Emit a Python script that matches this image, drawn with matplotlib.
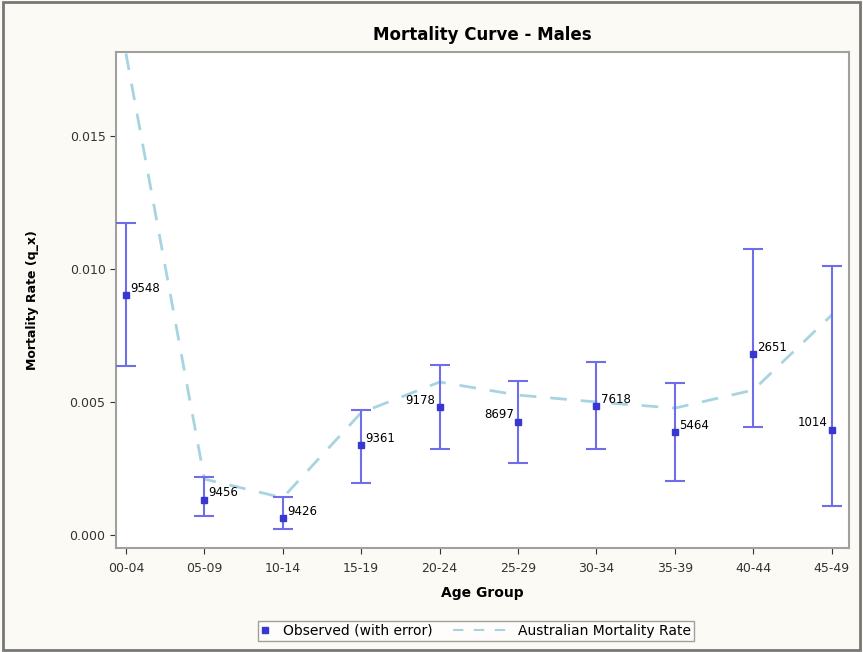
import matplotlib
matplotlib.use('Agg')
import matplotlib.pyplot as plt
from matplotlib.lines import Line2D
from matplotlib.legend_handler import HandlerBase

plt.rcParams['font.family'] = ['DejaVu Sans']

# Observed mortality by age group (with error range)
age_groups = ['00-04', '05-09', '10-14', '15-19', '20-24', '25-29', '30-34', '35-39', '40-44', '45-49']
observed = [0.00902, 0.00132, 0.00064, 0.00338, 0.00481, 0.00425, 0.00485, 0.00387, 0.00680, 0.00395]
upper = [0.01173, 0.00218, 0.00143, 0.00470, 0.00639, 0.00579, 0.00650, 0.00571, 0.01075, 0.01011]
lower = [0.00635, 0.00071, 0.00023, 0.00195, 0.00323, 0.00271, 0.00323, 0.00203, 0.00406, 0.00109]
counts = ['9548', '9456', '9426', '9361', '9178', '8697', '7618', '5464', '2651', '1014']
label_side = ['r', 'r', 'r', 'r', 'l', 'l', 'r', 'r', 'r', 'l']
# Australian reference rate
aus_rate = [0.0181, 0.0021, 0.0014, 0.0046, 0.00575, 0.00526, 0.0050, 0.00477, 0.00545, 0.00827]


class LeftMarker(HandlerBase):
    def create_artists(self, legend, orig_handle, xdescent, ydescent, width, height, fontsize, trans):
        m = Line2D([-xdescent + 3], [height / 2 - ydescent], marker='s', ms=4, ls='none',
                   color=orig_handle.get_color(), transform=trans)
        return [m]


class LongDash(HandlerBase):
    # dashed line that reaches back into the column gap
    def create_artists(self, legend, orig_handle, xdescent, ydescent, width, height, fontsize, trans):
        y = height / 2 - ydescent
        ln = Line2D([-xdescent + width - 41, -xdescent + width], [y, y], ls=(0, (5, 5)), lw=1.5,
                    color=orig_handle.get_color(), transform=trans)
        return [ln]


fig = plt.figure(figsize=(8.63, 6.52), dpi=100, facecolor='#fcfaf5')
ax = fig.add_axes([116 / 863, 1 - 548 / 652, (849 - 116) / 863, (548 - 52) / 652])
ax.set_facecolor('white')

obs_col = '#3838d0'
aus_col = '#a8d4e2'
x = list(range(len(age_groups)))
ax.plot(x, aus_rate, linestyle=(0, (6, 5)), color=aus_col, lw=2, zorder=2)
yerr = [[o - l for o, l in zip(observed, lower)], [u - o for o, u in zip(observed, upper)]]
ax.errorbar(x, observed, yerr=yerr, fmt='s', ms=4, color=obs_col, ecolor='#6e6ee8',
            elinewidth=1.5, capsize=7, capthick=1.5, zorder=3)

for xi, yi, c, s in zip(x, observed, counts, label_side):
    if s == 'r':
        ax.annotate(c, (xi, yi), xytext=(3, 5), textcoords='offset points', fontsize=8.5, ha='left', va='center')
    else:
        ax.annotate(c, (xi, yi), xytext=(-3, 5), textcoords='offset points', fontsize=8.5, ha='right', va='center')

ax.set_xlim(-0.127, 9.22)
ax.set_ylim(-0.00049, 0.01816)
ax.set_xticks(x)
ax.set_xticklabels(age_groups)
ax.set_yticks([0.0, 0.005, 0.010, 0.015])
ax.set_yticklabels(['0.000', '0.005', '0.010', '0.015'])
ax.tick_params(labelsize=9, colors='#333333', length=4)
ax.tick_params(axis='x', pad=6)
for sp in ax.spines.values():
    sp.set_color('#a0a0a0')
    sp.set_linewidth(1.5)

ax.set_title('Mortality Curve - Males', fontsize=12, fontweight='bold', pad=9)
ax.set_xlabel('Age Group', fontsize=10, fontweight='bold', labelpad=8)
ax.set_ylabel('Mortality Rate (q_x)', fontsize=9, fontweight='bold', labelpad=22)

obs_handle = Line2D([], [], marker='s', ms=4, ls='none', color=obs_col)
aus_handle = Line2D([], [], ls=(0, (6, 5)), lw=2, color=aus_col)
leg = fig.legend([obs_handle, aus_handle], ['Observed (with error)', 'Australian Mortality Rate'],
                 loc='center', bbox_to_anchor=(476 / 863, 1 - 631 / 652), ncol=2, fontsize=10,
                 frameon=True, fancybox=False, edgecolor='#888888', handlelength=1.0,
                 borderpad=0.2, borderaxespad=0, columnspacing=4.5, handletextpad=0.6,
                 handler_map={obs_handle: LeftMarker(), aus_handle: LongDash()})
leg.get_frame().set_linewidth(1)

# outer frame
fig.patches.append(plt.Rectangle((0.003, 0.003), 0.994, 0.994, transform=fig.transFigure,
                                 fill=False, edgecolor='#777777', lw=2))

fig.savefig('out.png', dpi=100, facecolor=fig.get_facecolor())
